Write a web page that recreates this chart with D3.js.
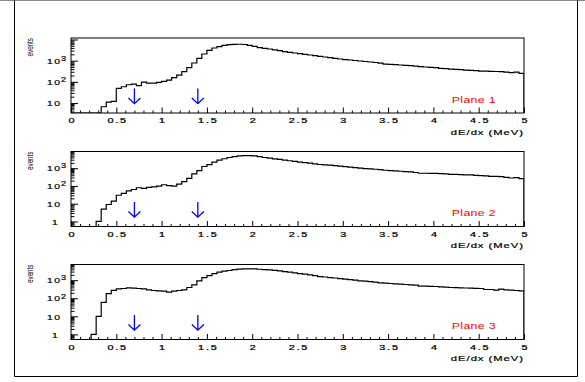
<!DOCTYPE html>
<html><head><meta charset="utf-8">
<script src="https://cdn.jsdelivr.net/npm/d3@7/dist/d3.min.js"></script>
<style>html,body{margin:0;padding:0;background:#fff;}svg{display:block;}</style>
</head><body>
<svg id="c" width="585" height="382"></svg>
<script>
// ---- data ----
const nBins = 90, xMin = 0, xMax = 5;
const plane1 = [0,0,0,0,0,0,6.7,11,12,49,59,73,79,66,98,88,88,95,105,122,157,210,302,467,776,1290,2070,3090,3970,4590,5300,5700,5900,5950,5800,5300,4700,4100,3800,3560,3250,2970,2700,2480,2300,2140,1990,1850,1720,1600,1490,1390,1290,1200,1130,1075,1020,965,915,865,820,775,695,671,647,624,602,580,550,521,502,484,467,434,418,403,389,375,362,349,337,325,319,313,308,302,291,271,291,252];
const plane2 = [0,0,0,0,0,1,5,9,14,30,38,53,63,79,72,83,89,98,117,103,98,127,174,270,475,730,1240,1600,2190,2850,3390,4000,4500,4900,5100,5100,4900,4500,4000,3650,3350,3100,2850,2620,2390,2190,2060,1920,1760,1610,1540,1475,1385,1295,1220,1140,1087,1020,955,915,873,820,764,730,700,670,640,613,570,520,517,510,505,494,473,453,453,434,425,415,398,380,365,350,342,334,305,280,292,257];
const plane3 = [0,0,0,0,1,10,59,180,275,332,346,376,361,346,332,293,268,258,247,217,247,268,293,393,552,918,1400,1810,2336,2770,3140,3450,3880,4150,4230,4230,4230,4050,3880,3720,3490,3280,3010,2770,2540,2336,2145,1970,1780,1595,1500,1405,1320,1237,1160,1089,1000,918,880,844,775,712,683,655,628,602,576,552,530,466,466,456,447,429,411,393,385,377,369,361,354,346,305,305,280,320,292,280,269,258];
const planeLabels = ["Plane 1", "Plane 2", "Plane 3"];
const yDomains = [[3.4, 11750], [0.52, 8700], [0.52, 7400]];
const arrowPositions = [0.7, 1.4];
const xTickValues = [0, 0.5, 1, 1.5, 2, 2.5, 3, 3.5, 4, 4.5, 5];
const xTickLabels = ["0", "0.5", "1", "1.5", "2", "2.5", "3", "3.5", "4", "4.5", "5"];
const yLabelValues = [1, 10, 100, 1000];
const xTitle = "dE/dx (MeV)";
const yTitle = "events";

// ---- layout ----
const svg = d3.select("#c");
const FONT = "'Liberation Sans', Arial, Helvetica, sans-serif";
const plotLeft = 71, plotRight = 524, plotH = 75;
const tops = [38, 151.5, 264.5];

// page frame
svg.append("line").attr("x1", 0).attr("x2", 585).attr("y1", 0.5).attr("y2", 0.5)
  .attr("stroke", "#8a8a8a").attr("stroke-width", 1);
svg.append("path").attr("d", "M14.5,0.5V376.5H577.5V0.5").attr("fill", "none")
  .attr("stroke", "#000").attr("stroke-width", 1);

const x = d3.scaleLinear().domain([xMin, xMax]).range([plotLeft, plotRight]);
const binW = (xMax - xMin) / nBins;
const minorX = d3.range(0, 51).map(i => i / 10).filter(v => !xTickValues.some(t => Math.abs(t - v) < 1e-9));

[plane1, plane2, plane3].forEach((vals, p) => {
  const top = tops[p], bottom = top + plotH;
  const y = d3.scaleLog().domain(yDomains[p]).range([bottom, top]);
  const g = svg.append("g");
  const clipId = "clip" + p;
  svg.append("clipPath").attr("id", clipId).append("rect")
    .attr("x", plotLeft).attr("y", top).attr("width", plotRight - plotLeft).attr("height", plotH);

  // histogram step path
  const yv = v => y(Math.max(v, yDomains[p][0]));
  let d = `M${x(xMin)},${bottom}V${yv(vals[0])}`;
  vals.forEach((v, i) => {
    d += `V${yv(v)}H${x(xMin + (i + 1) * binW)}`;
  });
  d += `V${bottom}`;
  g.append("path").attr("d", d).attr("fill", "none").attr("stroke", "#000")
    .attr("stroke-width", 1.2).attr("clip-path", `url(#${clipId})`);

  // frame
  g.append("rect").attr("x", plotLeft).attr("y", top).attr("width", plotRight - plotLeft)
    .attr("height", plotH).attr("fill", "none").attr("stroke", "#000").attr("stroke-width", 1);

  // x axis ticks
  const xa = g.append("g").attr("transform", `translate(0,${bottom})`)
    .call(d3.axisBottom(x).tickValues(xTickValues).tickSizeInner(-5.5).tickSizeOuter(0)
      .tickPadding(5).tickFormat((v, i) => xTickLabels[i]));
  xa.select(".domain").remove();
  xa.selectAll("line").attr("stroke", "#000");
  xa.selectAll("text").attr("font-family", FONT).attr("font-size", 7.2).attr("fill", "#000")
    .attr("stroke", "#000").attr("stroke-width", 0.25)
    .attr("letter-spacing", 1.2).attr("transform", "scale(1.5,1)").attr("dx", 0.6);
  const xm = g.append("g").attr("transform", `translate(0,${bottom})`)
    .call(d3.axisBottom(x).tickValues(minorX).tickSizeInner(-2.5).tickSizeOuter(0).tickFormat(""));
  xm.select(".domain").remove();
  xm.selectAll("line").attr("stroke", "#000");

  // y axis ticks
  const [lo, hi] = yDomains[p];
  const majors = [], minors = [];
  for (let e = Math.floor(Math.log10(lo)); e <= Math.ceil(Math.log10(hi)); e++) {
    for (let m = 1; m <= 9; m++) {
      const v = m * Math.pow(10, e);
      if (v >= lo && v <= hi) (m === 1 ? majors : minors).push(v);
    }
  }
  const ya = g.append("g").attr("transform", `translate(${plotLeft},0)`)
    .call(d3.axisLeft(y).tickValues(majors).tickSizeInner(-7).tickSizeOuter(0).tickFormat(""));
  ya.select(".domain").remove();
  ya.selectAll("line").attr("stroke", "#000");
  const ym = g.append("g").attr("transform", `translate(${plotLeft},0)`)
    .call(d3.axisLeft(y).tickValues(minors).tickSizeInner(-3.5).tickSizeOuter(0).tickFormat(""));
  ym.select(".domain").remove();
  ym.selectAll("line").attr("stroke", "#000");

  // y labels
  yLabelValues.filter(v => v >= lo && v <= hi).forEach(v => {
    const ex = Math.round(Math.log10(v));
    const base = ex === 0 ? "1" : "10";
    const yy = y(v);
    g.append("text").attr("transform", `translate(${ex === 0 ? 55 : 53.5},${yy + 3.2}) scale(1.3,1)`)
      .attr("text-anchor", "middle").attr("font-family", FONT).attr("font-size", 8)
      .attr("stroke", "#000").attr("stroke-width", 0.2)
      .attr("letter-spacing", 1).attr("dx", 0.5).text(base);
    if (ex >= 2) {
      g.append("text").attr("transform", `translate(61,${yy + 0.3}) scale(1.3,1)`)
        .attr("font-family", FONT).attr("font-size", 7)
        .attr("stroke", "#000").attr("stroke-width", 0.2).text(String(ex));
    }
  });

  // y title
  g.append("text").attr("transform", `translate(33,${top}) rotate(-90)`)
    .attr("text-anchor", "end").attr("font-family", FONT).attr("font-size", 8.5)
    .attr("textLength", 18.5).attr("lengthAdjust", "spacingAndGlyphs").text(yTitle);

  // x title
  g.append("text").attr("transform", `translate(${plotRight},${bottom + 21.5}) scale(1.5,1)`)
    .attr("text-anchor", "end").attr("font-family", FONT).attr("font-size", 7.5)
    .attr("stroke", "#000").attr("stroke-width", 0.2)
    .attr("letter-spacing", 0.65).text(xTitle);

  // plane label
  g.append("text").attr("transform", `translate(451.7,${bottom - 10.3}) scale(1.45,1)`)
    .attr("font-family", FONT).attr("font-size", 8.5).attr("fill", "#ff0000")
    .attr("letter-spacing", 0.25).text(planeLabels[p]);

  // arrows
  arrowPositions.forEach(a => {
    const ax = x(a);
    g.append("path")
      .attr("d", `M${ax},${bottom - 24.5}V${bottom - 9.3}M${ax - 6},${bottom - 15}L${ax},${bottom - 9.3}L${ax + 6},${bottom - 15}`)
      .attr("fill", "none").attr("stroke", "#0000ff").attr("stroke-width", 1.3);
  });
});
</script>
</body></html>
